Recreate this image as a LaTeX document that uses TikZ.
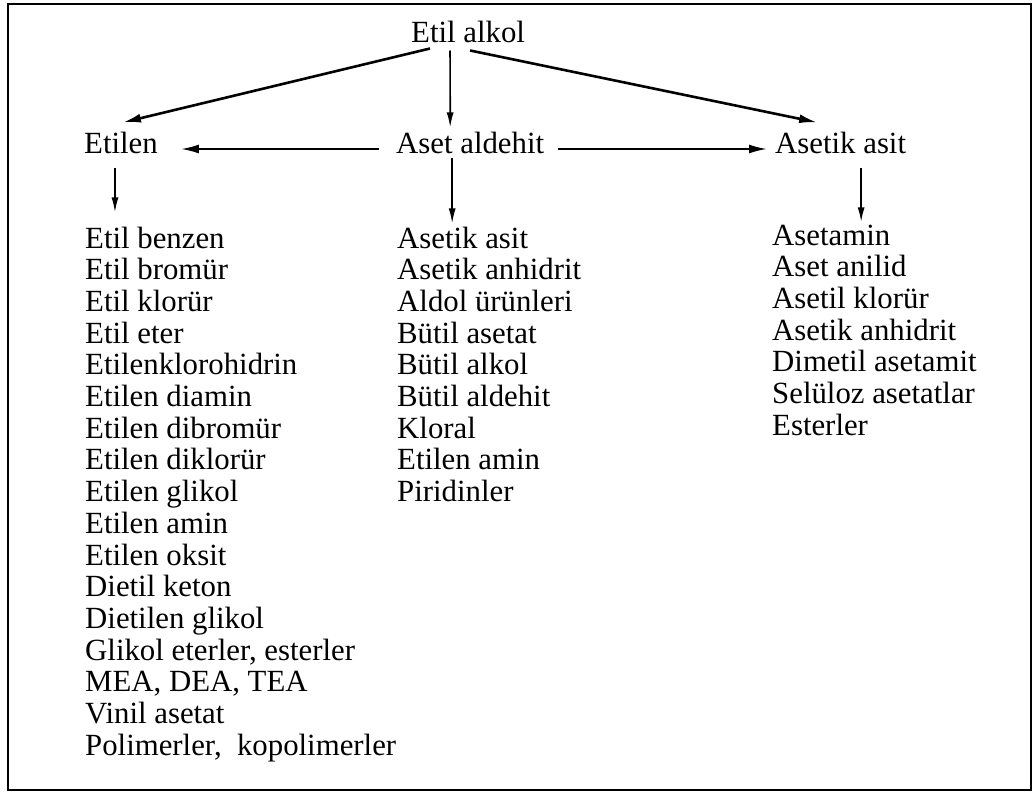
\documentclass[tikz,border=0pt]{standalone}
\usepackage{fontspec}
\setmainfont{Liberation Serif}
\usetikzlibrary{arrows.meta}

\tikzset{chem/.style={inner sep=0pt, anchor=base west, font=\fontsize{30.8}{31.7}\selectfont}}
\tikzset{arr/.style={-{Latex[length=15pt,width=7pt]}, line width=1.7pt}}
\tikzset{thickarr/.style={-{Latex[length=18pt,width=9pt]}, line width=2.6pt}}

\begin{document}
\begin{tikzpicture}[x=1pt, y=-1pt]
			\useasboundingbox (0,0) rectangle (1033,792);
			% Frame
			\draw[line width=2pt] (8,4.5) rectangle (1031,789.5);

			% Main compounds
			\node[chem] (alkol)   at (411, 43) {Etil alkol};
			\node[chem] (etilen)  at ( 84,153) {Etilen};
			\node[chem] (aldehit) at (396,153) {Aset aldehit};
			\node[chem] (asetik)  at (775,153) {Asetik asit};

			% Products of each compound
			\foreach \t [count=\i] in {Etil benzen, Etil bromür, Etil klorür, Etil eter,
				Etilenklorohidrin, Etilen diamin, Etilen dibromür, Etilen diklorür,
				Etilen glikol, Etilen amin, Etilen oksit, Dietil keton, Dietilen glikol,
				{Glikol eterler, esterler}, {MEA, DEA, TEA}, Vinil asetat,
				{Polimerler,~~kopolimerler}}{
				\node[chem] (e\i) at (85,{248+31.7*(\i-1)}) {\t};
			}
			\foreach \t [count=\i] in {Asetik asit, Asetik anhidrit, Aldol ürünleri,
				Bütil asetat, Bütil alkol, Bütil aldehit, Kloral, Etilen amin, Piridinler}{
				\node[chem] (m\i) at (397,{248+31.7*(\i-1)}) {\t};
			}
			\foreach \t [count=\i] in {Asetamin, Aset anilid, Asetil klorür, Asetik anhidrit,
				Dimetil asetamit, Selüloz asetatlar, Esterler}{
				\node[chem] (r\i) at (772,{245+31.7*(\i-1)}) {\t};
			}

			% Arrows from Etil alkol
			\draw[thickarr] ([xshift=19pt,yshift=-5pt]alkol.south west) -- ([xshift=2pt,yshift=9pt]etilen.north);
			\draw[arr] ([xshift=-18pt,yshift=-7pt]alkol.south) -- ([xshift=-20pt,yshift=4pt]aldehit.north);
			\draw[thickarr] ([xshift=2pt,yshift=-7pt]alkol.south) -- ([xshift=-23.5pt,yshift=9pt]asetik.north);

			% Arrows from Aset aldehit
			\draw[thickarr, line width=2pt] ([xshift=-17pt,yshift=4pt]aldehit.base west) -- ([xshift=23pt,yshift=4pt]etilen.base east);
			\draw[thickarr, line width=2pt] ([xshift=14pt,yshift=4pt]aldehit.base east) -- ([xshift=-8pt,yshift=4pt]asetik.base west);

			% Arrows down to the products
			\draw[arr] ([xshift=-6pt,yshift=-14pt]etilen.south) -- ([xshift=-6pt,yshift=14pt]etilen.south |- e1.north);
			\draw[arr] ([xshift=-18pt,yshift=-4pt]aldehit.south) -- ([xshift=-18pt,yshift=3pt]aldehit.south |- m1.north);
			\draw[arr, line width=2pt] ([xshift=20.5pt,yshift=-14pt]asetik.south) -- ([xshift=20.5pt,yshift=2pt]asetik.south |- r1.north);
		\end{tikzpicture}
\end{document}
